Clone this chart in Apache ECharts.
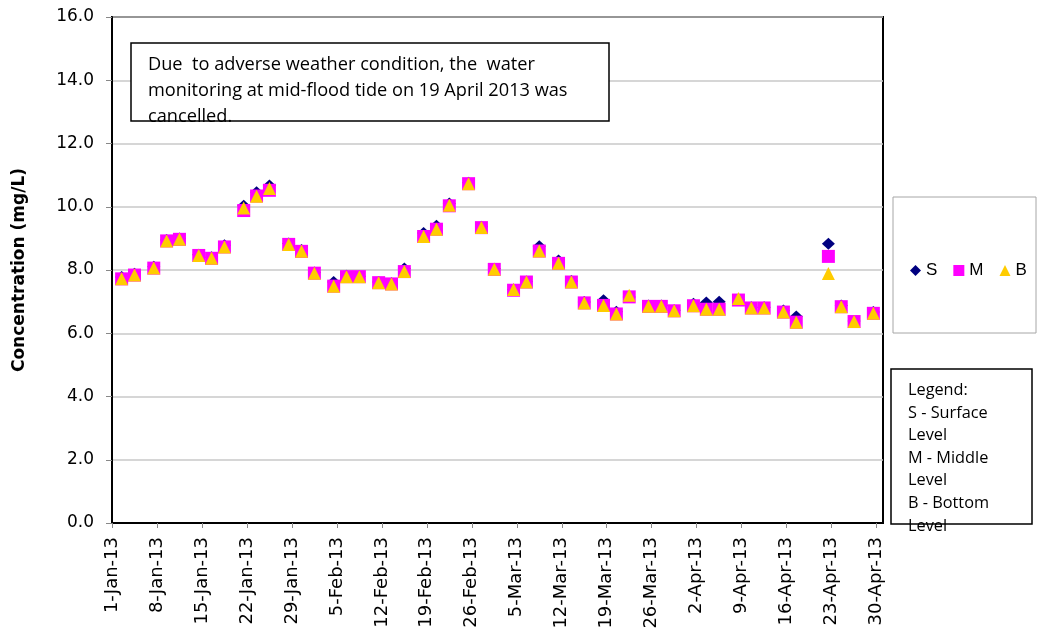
<!DOCTYPE html>
<html><head><meta charset="utf-8">
<script src="https://cdn.jsdelivr.net/npm/echarts@6/dist/echarts.min.js"></script>
<style>html,body{margin:0;padding:0;background:#fff}#c{width:1037px;height:632px}</style>
</head><body><div id="c"></div>
<script>
// Sampling dates (Mon/Wed/Fri, 2013)
const dates = [
  '2013-01-02','2013-01-04','2013-01-07','2013-01-09','2013-01-11','2013-01-14','2013-01-16','2013-01-18',
  '2013-01-21','2013-01-23','2013-01-25','2013-01-28','2013-01-30','2013-02-01','2013-02-04','2013-02-06',
  '2013-02-08','2013-02-11','2013-02-13','2013-02-15','2013-02-18','2013-02-20','2013-02-22','2013-02-25',
  '2013-02-27','2013-03-01','2013-03-04','2013-03-06','2013-03-08','2013-03-11','2013-03-13','2013-03-15',
  '2013-03-18','2013-03-20','2013-03-22','2013-03-25','2013-03-27','2013-03-29','2013-04-01','2013-04-03',
  '2013-04-05','2013-04-08','2013-04-10','2013-04-12','2013-04-15','2013-04-17','2013-04-22','2013-04-24',
  '2013-04-26','2013-04-29'
];
const surface = [
  7.78, 7.88, 8.10, 8.95, 9.00, 8.48, 8.40, 8.78,
  10.03, 10.46, 10.67, 8.84, 8.63, 7.92, 7.62, 7.82,
  7.80, 7.62, 7.58, 8.05, 9.17, 9.40, 10.10, 10.76,
  9.37, 8.04, 7.38, 7.64, 8.75, 8.30, 7.65, 6.99,
  7.04, 6.68, 7.15, 6.88, 6.88, 6.73, 6.93, 6.97,
  7.00, 7.07, 6.82, 6.82, 6.72, 6.53, 8.83, 6.88,
  6.39, 6.67
];
const middle = [
  7.72, 7.84, 8.06, 8.92, 8.97, 8.46, 8.37, 8.73,
  9.88, 10.34, 10.52, 8.81, 8.59, 7.90, 7.49, 7.79,
  7.79, 7.60, 7.56, 7.95, 9.06, 9.29, 10.03, 10.73,
  9.34, 8.02, 7.36, 7.62, 8.60, 8.21, 7.62, 6.96,
  6.88, 6.61, 7.15, 6.85, 6.85, 6.71, 6.87, 6.76,
  6.76, 7.05, 6.80, 6.80, 6.67, 6.35, 8.43, 6.84,
  6.37, 6.63
];
const bottom = [
  7.72, 7.84, 8.06, 8.92, 8.97, 8.46, 8.37, 8.73,
  9.96, 10.33, 10.58, 8.81, 8.59, 7.90, 7.49, 7.79,
  7.79, 7.60, 7.56, 7.95, 9.06, 9.29, 10.05, 10.73,
  9.34, 8.02, 7.38, 7.62, 8.60, 8.21, 7.62, 6.96,
  6.88, 6.61, 7.20, 6.85, 6.85, 6.71, 6.87, 6.76,
  6.76, 7.10, 6.80, 6.80, 6.67, 6.35, 7.89, 6.84,
  6.37, 6.63
];
const seriesNames = ['S', 'M', 'B'];
const yTitle = 'Concentration (mg/L)';
const noteText = 'Due  to adverse weather condition, the  water\nmonitoring at mid-flood tide on 19 April 2013 was\ncancelled.';
const legendNote = 'Legend:\nS - Surface\nLevel\nM - Middle\nLevel\nB - Bottom\nLevel';
const monthNames = ['Jan','Feb','Mar','Apr','May','Jun','Jul','Aug','Sep','Oct','Nov','Dec'];

const origin = Date.UTC(2013, 0, 1);
function dayPos(s) {
  const p = s.split('-').map(Number);
  return (Date.UTC(p[0], p[1] - 1, p[2]) - origin) / 86400000 + 0.5; // centre of day slot
}
function dayLabel(v) {
  const d = new Date(origin + v * 86400000);
  return d.getUTCDate() + '-' + monthNames[d.getUTCMonth()] + '-' + String(d.getUTCFullYear()).slice(2);
}
const pair = arr => dates.map((d, i) => [dayPos(d), arr[i]]);

const chart = echarts.init(document.getElementById('c'), null, {renderer: 'canvas'});
chart.setOption({
  animation: false,
  backgroundColor: '#fff',
  grid: {left: 112, right: 154, top: 17, bottom: 109, show: true, borderColor: '#000', borderWidth: 2, backgroundColor: 'transparent'},
  xAxis: {
    type: 'value', min: 0, max: 120, interval: 7,
    axisLine: {show: true, lineStyle: {color: '#000', width: 2}},
    axisTick: {show: true, length: 5, lineStyle: {color: '#888'}},
    splitLine: {show: false},
    axisLabel: {
      rotate: 90, margin: 14, color: '#000', fontFamily: 'DejaVu Sans', fontSize: 18,
      showMaxLabel: false,
      formatter: v => (v % 7 === 0 && v < 120) ? dayLabel(v) : ''
    }
  },
  yAxis: {
    type: 'value', min: 0, max: 16, interval: 2,
    name: yTitle, nameLocation: 'middle', nameGap: 84,
    nameTextStyle: {fontFamily: 'DejaVu Sans', fontWeight: 'bold', fontSize: 17, color: '#000'},
    axisLine: {show: true, lineStyle: {color: '#000', width: 2}},
    axisTick: {show: true, length: 6, lineStyle: {color: '#888'}},
    splitLine: {show: true, lineStyle: {color: '#c8c8c8', width: 1.5}},
    axisLabel: {margin: 18, color: '#000', fontFamily: 'DejaVu Sans', fontSize: 17, formatter: v => v.toFixed(1)}
  },
  legend: {
    data: seriesNames, left: 905, top: 257, orient: 'horizontal',
    itemGap: 16, itemWidth: 11, itemHeight: 11,
    textStyle: {fontFamily: 'Liberation Sans', fontSize: 17, color: '#000'}
  },
  series: [
    {name: 'S', type: 'scatter', symbol: 'diamond', symbolSize: [13, 12], itemStyle: {color: '#000080', opacity: 1}, data: pair(surface)},
    {name: 'M', type: 'scatter', symbol: 'rect', symbolSize: [13, 13], itemStyle: {color: '#ff00ff', opacity: 1}, data: pair(middle)},
    {name: 'B', type: 'scatter', symbol: 'triangle', symbolSize: [13, 13], itemStyle: {color: '#ffcc00', opacity: 1}, data: pair(bottom)}
  ],
  graphic: [
    {type: 'rect', z: 100, shape: {x: 131, y: 43, width: 478, height: 78}, style: {fill: '#fff', stroke: '#000', lineWidth: 1.5}},
    {type: 'text', z: 101, x: 148, y: 52, style: {text: noteText, fontFamily: 'Open Sans', fontSize: 18.2, lineHeight: 25.8, fill: '#000', verticalAlign: 'top'}},
    {type: 'rect', z: 100, shape: {x: 893, y: 197, width: 143, height: 136}, style: {fill: 'none', stroke: '#a6a6a6', lineWidth: 1}},
    {type: 'rect', z: 100, shape: {x: 891, y: 369, width: 141, height: 155}, style: {fill: '#fff', stroke: '#000', lineWidth: 1.5}},
    {type: 'text', z: 101, x: 908, y: 379, style: {text: legendNote, fontFamily: 'Open Sans', fontSize: 16.3, lineHeight: 22.6, fill: '#000', verticalAlign: 'top'}}
  ]
});
</script></body></html>
